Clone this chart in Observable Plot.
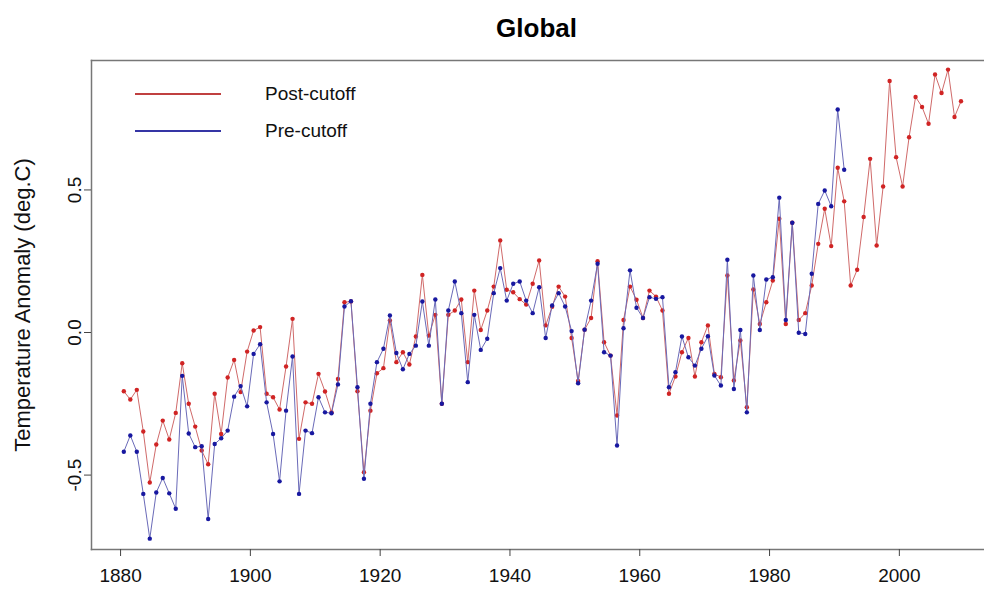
<!DOCTYPE html>
<html>
<head>
<meta charset="utf-8">
<script src="https://cdn.jsdelivr.net/npm/d3@7"></script>
<script src="https://cdn.jsdelivr.net/npm/@observablehq/plot@0.6"></script>
<style>
  html, body { margin: 0; padding: 0; background: #fff; }
  #wrap { position: relative; width: 984px; height: 592px; overflow: hidden; font-family: "Liberation Sans", Arial, sans-serif; }
  #title { position: absolute; left: 91px; width: 891px; top: 12px; line-height: 32px; text-align: center; font-weight: bold; font-size: 26px; color: #000; }
  .leg { position: absolute; left: 135px; height: 22px; display: flex; align-items: center; font-size: 19px; color: #111; }
  .leg .ln { width: 86px; height: 0; border-top: 2px solid; margin-right: 44px; }
</style>
</head>
<body>
<div id="wrap">
  <div id="title">Global</div>
  <div id="chart"></div>
  <div class="leg" style="top:83px"><span class="ln" style="border-color:#c04040"></span><span>Post-cutoff</span></div>
  <div class="leg" style="top:120px"><span class="ln" style="border-color:#3535a5"></span><span>Pre-cutoff</span></div>
</div>
<script>
const startYear = 1880;
const postCutoff = [
  -0.206, -0.235, -0.201, -0.347, -0.526, -0.393, -0.309, -0.375, -0.282, -0.108,
  -0.250, -0.330, -0.414, -0.462, -0.215, -0.356, -0.158, -0.096, -0.209, -0.067,
   0.007,  0.019, -0.215, -0.227, -0.270, -0.119,  0.048, -0.373, -0.245, -0.250,
  -0.145, -0.207, -0.280, -0.163,  0.106,  0.109, -0.206, -0.490, -0.274, -0.143,
  -0.125,  0.042, -0.104, -0.069, -0.112, -0.014,  0.202, -0.011,  0.062, -0.250,
   0.062,  0.077,  0.116, -0.104,  0.147,  0.009,  0.077,  0.161,  0.323,  0.150,
   0.141,  0.117,  0.098,  0.171,  0.253,  0.025,  0.090,  0.161,  0.126, -0.019,
  -0.170,  0.010,  0.051,  0.250, -0.034, -0.081, -0.291,  0.044,  0.161,  0.115,
   0.051,  0.147,  0.126,  0.077, -0.215, -0.154, -0.069, -0.019, -0.154, -0.034,
   0.025, -0.145, -0.157,  0.200, -0.168, -0.028, -0.262,  0.151,  0.030,  0.106,
   0.182,  0.399,  0.030,  0.385,  0.044,  0.068,  0.165,  0.311,  0.434,  0.303,
   0.578,  0.460,  0.165,  0.220,  0.405,  0.609,  0.305,  0.512,  0.882,  0.615,
   0.512,  0.685,  0.826,  0.791,  0.732,  0.905,  0.840,  0.922,  0.756,  0.811
];
const preCutoff = [
  -0.418, -0.361, -0.418, -0.566, -0.723, -0.561, -0.510, -0.564, -0.618, -0.152,
  -0.354, -0.402, -0.399, -0.654, -0.391, -0.371, -0.344, -0.225, -0.188, -0.259,
  -0.075, -0.041, -0.245, -0.356, -0.522, -0.274, -0.084, -0.566, -0.344, -0.353,
  -0.227, -0.280, -0.283, -0.182,  0.091,  0.110, -0.192, -0.513, -0.250, -0.104,
  -0.057,  0.060, -0.072, -0.129, -0.075, -0.046,  0.109, -0.046,  0.116, -0.250,
   0.077,  0.179,  0.068, -0.174,  0.062, -0.061, -0.022,  0.138,  0.226,  0.112,
   0.171,  0.179,  0.112,  0.068,  0.159, -0.019,  0.095,  0.138,  0.091,  0.005,
  -0.178,  0.010,  0.112,  0.241, -0.069, -0.081, -0.396,  0.015,  0.218,  0.087,
   0.051,  0.124,  0.118,  0.124, -0.192, -0.139, -0.014, -0.087, -0.116, -0.057,
  -0.013, -0.151, -0.186,  0.255, -0.198,  0.009, -0.280,  0.200,  0.009,  0.186,
   0.194,  0.473,  0.044,  0.385, -0.001, -0.005,  0.206,  0.451,  0.498,  0.443,
   0.782,  0.571
];
const xTicks = [1880, 1900, 1920, 1940, 1960, 1980, 2000];
const yTicks = [-0.5, 0.0, 0.5];
const yLabel = "Temperature Anomaly (deg.C)";

// annual values are plotted at the middle of each year
const post = postCutoff.map((v, i) => ({t: startYear + i + 0.5, value: v}));
const pre = preCutoff.map((v, i) => ({t: startYear + i + 0.5, value: v}));

const chart = Plot.plot({
  width: 984,
  height: 592,
  marginTop: 60,
  marginBottom: 43,
  marginLeft: 91,
  marginRight: 0,
  style: {fontFamily: "'Liberation Sans', Arial, sans-serif", fontSize: "19px", color: "#111", background: "transparent"},
  x: {domain: [1875.52, 2013.12], label: null},
  y: {domain: [-0.761, 0.954], label: null},
  marks: [
    Plot.frame({anchor: "top", stroke: "#777", strokeWidth: 1.5}),
    Plot.frame({anchor: "left", stroke: "#777", strokeWidth: 1.5}),
    Plot.frame({anchor: "bottom", stroke: "#777", strokeWidth: 1.5}),
    Plot.axisX({ticks: xTicks, tickSize: 7, tickPadding: 12, tickFormat: d => String(d), stroke: "#444", fontSize: 19, label: null}),
    Plot.axisY({ticks: yTicks, tickSize: 7, tickFormat: () => "", stroke: "#444", label: null}),
    Plot.text(yTicks, {y: d => d, text: d => d.toFixed(1), frameAnchor: "left", rotate: -90, dx: -17, textAnchor: "middle", fontSize: 19, fill: "#111"}),
    Plot.text([yLabel], {text: d => d, frameAnchor: "left", rotate: -90, dx: -69, textAnchor: "middle", fontSize: 22, fill: "#111"}),
    Plot.line(post, {x: "t", y: "value", stroke: "#d06a6a", strokeWidth: 1}),
    Plot.dot(post, {x: "t", y: "value", r: 2.2, fill: "#d02424", stroke: "none"}),
    Plot.line(pre, {x: "t", y: "value", stroke: "#6a6ab8", strokeWidth: 1}),
    Plot.dot(pre, {x: "t", y: "value", r: 2.2, fill: "#1818a0", stroke: "none"})
  ]
});
document.getElementById("chart").appendChild(chart);
</script>
</body>
</html>
